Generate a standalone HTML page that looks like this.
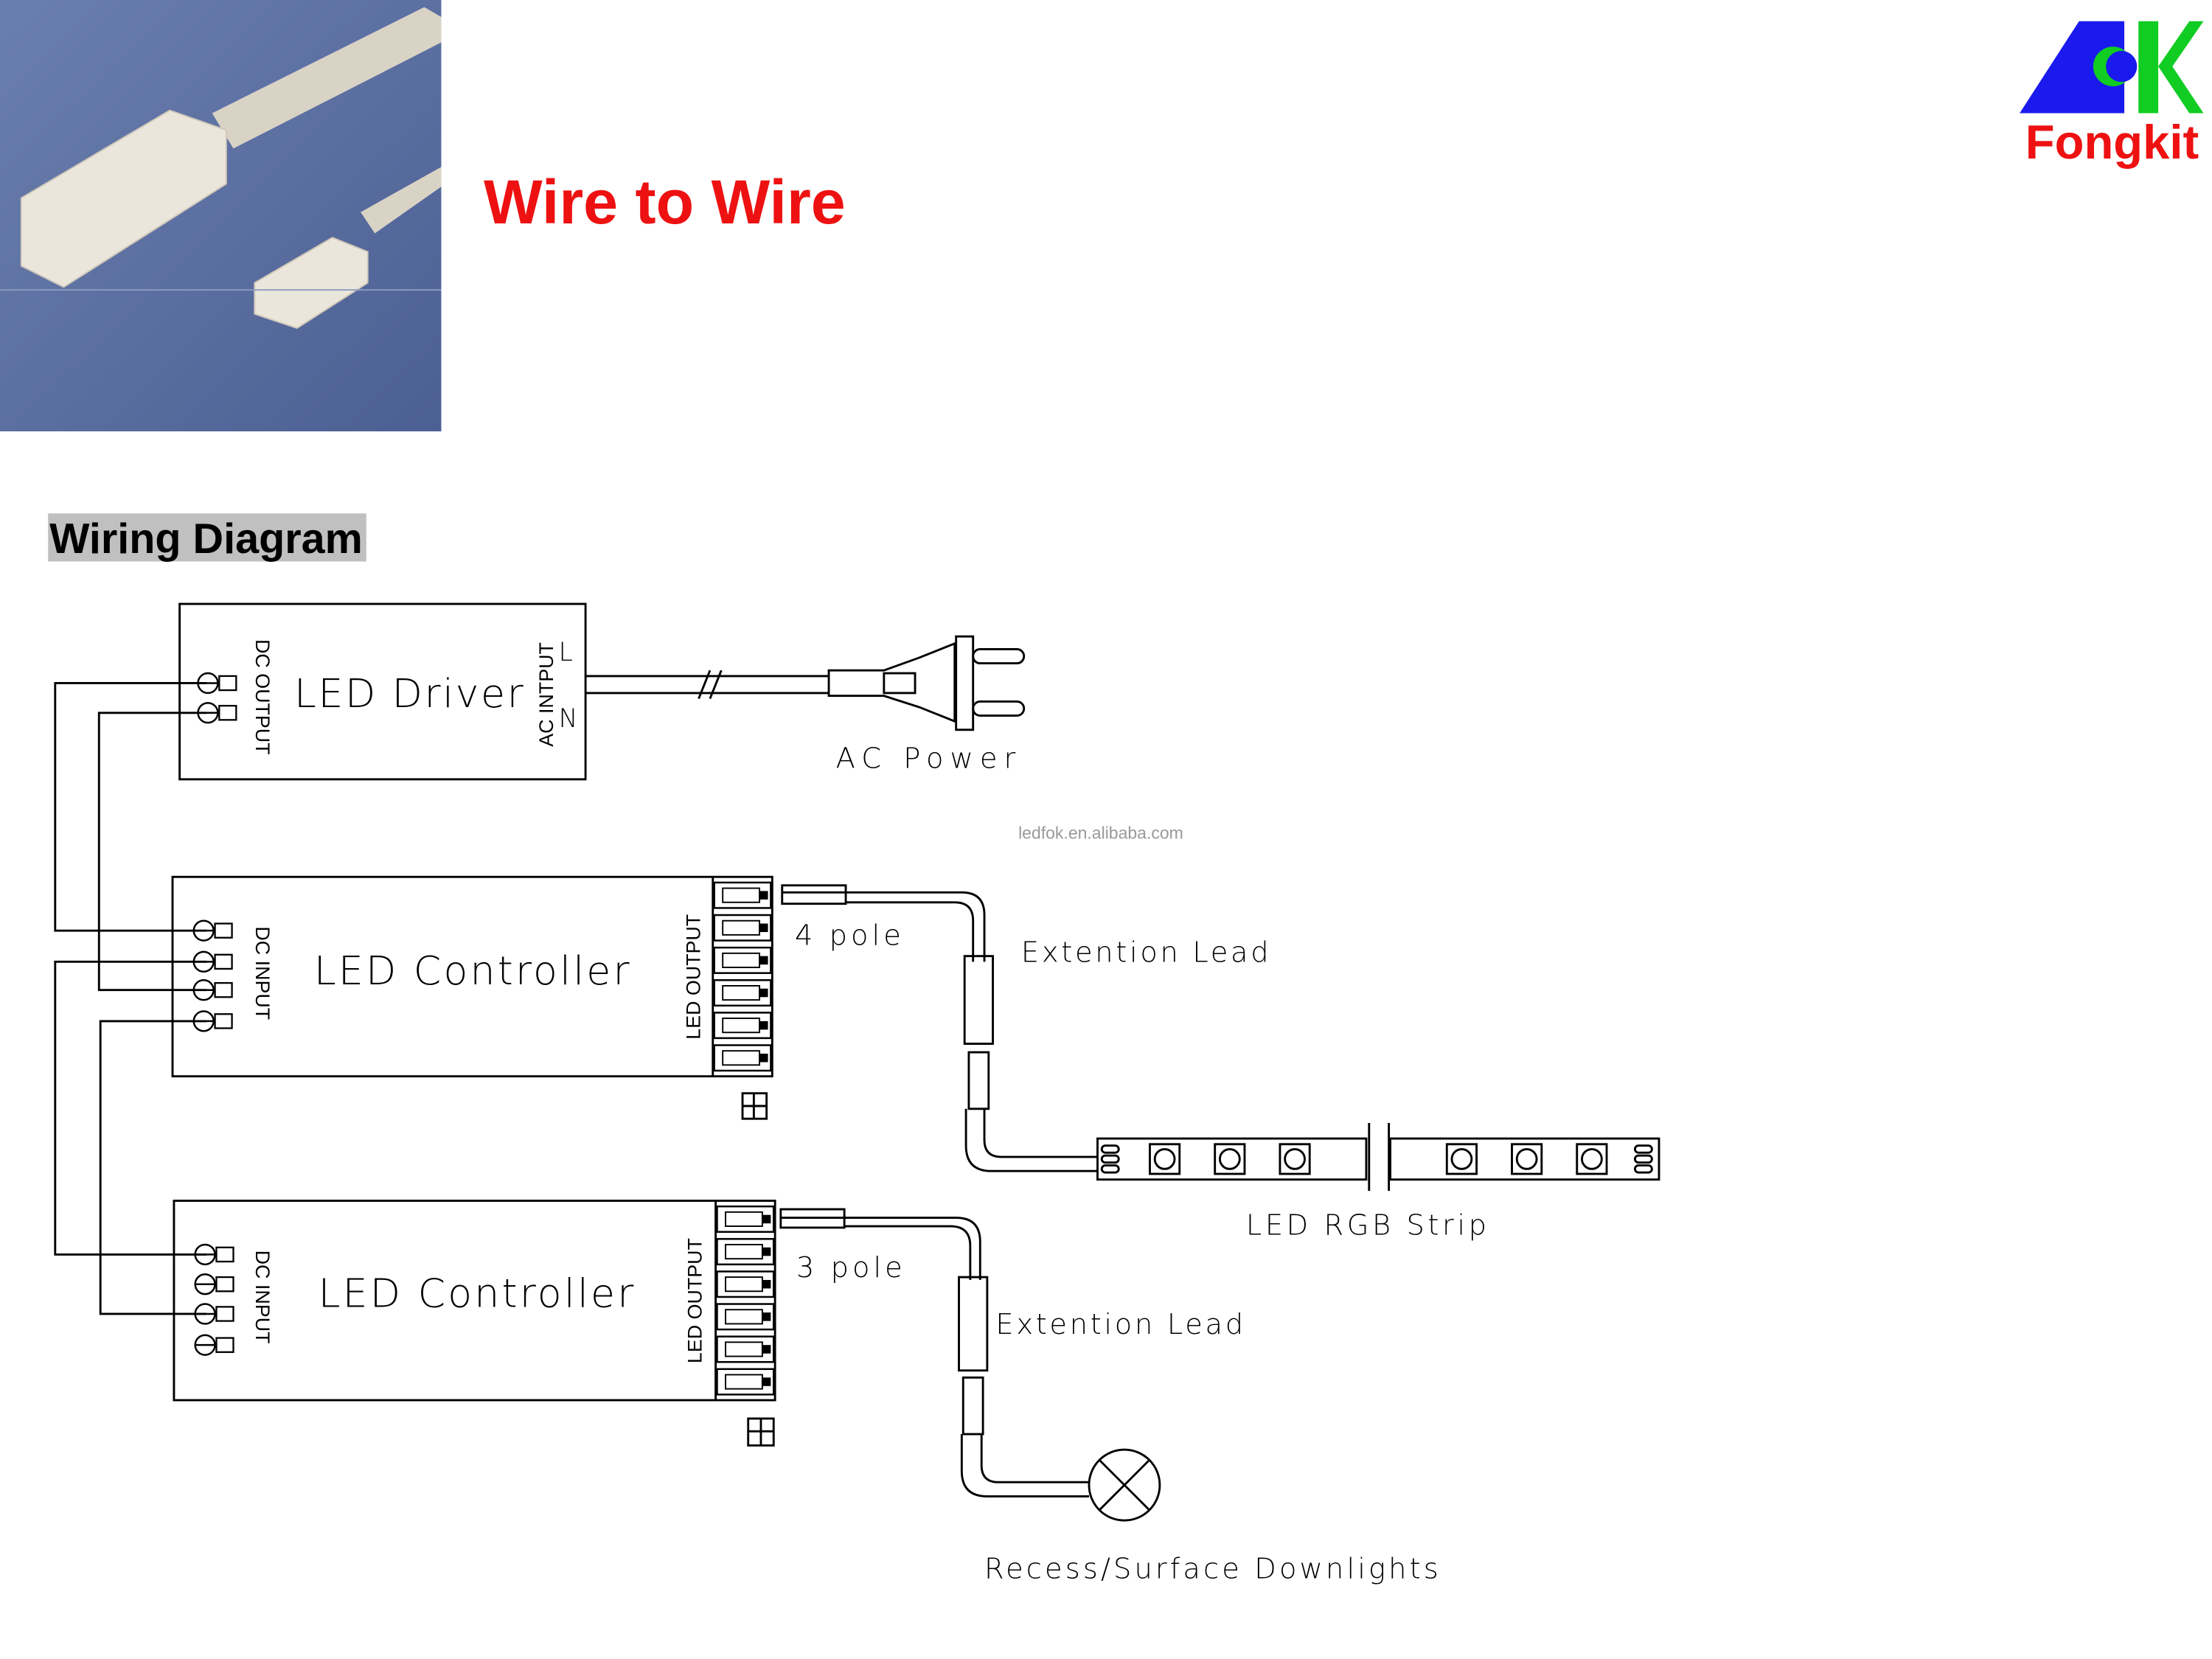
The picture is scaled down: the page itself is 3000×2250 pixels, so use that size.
<!DOCTYPE html>
<html><head><meta charset="utf-8"><style>
html,body{margin:0;padding:0;background:#fff;}
svg{display:block;}
text{font-family:"Liberation Sans","DejaVu Sans",sans-serif;}
.d{font-family:"DejaVu Sans","Liberation Sans",sans-serif;font-weight:200;}
</style></head><body>
<svg width="3000" height="2250" viewBox="0 0 1564 1173" xmlns="http://www.w3.org/2000/svg">
<defs>
<linearGradient id="bg" x1="0" y1="0" x2="1" y2="1"><stop offset="0" stop-color="#6b7fae"/><stop offset="1" stop-color="#4c5f93"/></linearGradient>
<g id="term"><circle cx="0" cy="0" r="7" fill="none" stroke="#000" stroke-width="1.3"/><line x1="-7" y1="0" x2="7" y2="0" stroke="#000" stroke-width="1.3"/><rect x="8" y="-5" width="12" height="10" fill="none" stroke="#000" stroke-width="1.2"/></g>
<g id="out"><rect x="0" y="0" width="40" height="18" fill="none" stroke="#000" stroke-width="1.3"/><rect x="6" y="4" width="26" height="10" fill="none" stroke="#000" stroke-width="1"/><rect x="32" y="6" width="6" height="6" fill="#000"/></g>
</defs>
<rect width="1564" height="1173" fill="#fff"/>
<!-- photo -->
<rect x="0" y="0" width="312" height="305" fill="url(#bg)"/>
<path d="M150 80 L300 5 L312 12 L312 30 L165 105 Z" fill="#d9d3c6"/>
<path d="M15 140 L120 78 L160 92 L160 130 L45 203 L15 188 Z" fill="#ebe6dc" stroke="#cfc7b8"/>
<path d="M255 150 L312 118 L312 132 L265 165 Z" fill="#d9d3c6"/>
<path d="M180 200 L235 168 L260 178 L260 200 L210 232 L180 222 Z" fill="#ebe6dc" stroke="#cfc7b8"/>
<line x1="0" y1="205" x2="312" y2="205" stroke="#8d9cc2" stroke-width="1"/>
<text x="342" y="158" font-size="44" font-weight="bold" fill="#ee1111">Wire to Wire</text>
<!-- logo -->
<path d="M1428 80 L1470 15 L1502 15 L1502 80 Z" fill="#1a1aee"/>
<rect x="1512" y="15" width="14" height="65" fill="#11cc22"/>
<path d="M1526 47 L1548 15 L1558 15 L1536 47 L1558 80 L1548 80 Z" fill="#11cc22"/>
<circle cx="1494" cy="47" r="14" fill="#11cc22"/><circle cx="1500" cy="47" r="11" fill="#1a1aee"/>
<text x="1432" y="112" font-size="34" font-weight="bold" fill="#ee1111">Fongkit</text>
<!-- heading -->
<rect x="34" y="363" width="225" height="34" fill="#c0c0c0"/>
<text x="35" y="391" font-size="30" font-weight="bold" fill="#000">Wiring Diagram</text>
<g fill="none" stroke="#000" stroke-width="1.5">
<rect x="127" y="427" width="287" height="124"/>
<rect x="122" y="620" width="424" height="141"/><line x1="504" y1="620" x2="504" y2="761"/>
<rect x="123" y="849" width="425" height="141"/><line x1="506" y1="849" x2="506" y2="990"/>
<polyline points="146,483 39,483 39,658 146,658"/>
<polyline points="146,504 70,504 70,700 146,700"/>
<polyline points="146,680 39,680 39,887 146,887"/>
<polyline points="146,722 71,722 71,929 146,929"/>
<line x1="414" y1="478" x2="586" y2="478"/><line x1="414" y1="490" x2="586" y2="490"/>
<line x1="494" y1="494" x2="502" y2="474"/><line x1="502" y1="494" x2="510" y2="474"/>
<path d="M586 474 L625 474 L650 465 L675 455 L675 510 L650 500 L625 492 L586 492 Z"/>
<rect x="676" y="450" width="12" height="66"/>
<rect x="688" y="459" width="36" height="10" rx="5"/><rect x="688" y="496" width="36" height="10" rx="5"/>
<rect x="625" y="476" width="22" height="14"/>
<path d="M553 631 L680 631 Q696 631 696 647 L696 680"/>
<path d="M598 638 L675 638 Q688 638 688 651 L688 680"/>
<rect x="553" y="626" width="45" height="13"/>
<rect x="682" y="676" width="20" height="62"/>
<rect x="685" y="744" width="14" height="40"/>
<path d="M683 784 L683 810 Q683 828 701 828 L776 828"/>
<path d="M696 784 L696 806 Q696 818 708 818 L776 818"/>
<rect x="776" y="805" width="190" height="29"/><rect x="983" y="805" width="190" height="29"/>
<line x1="968" y1="794" x2="968" y2="842"/><line x1="982" y1="794" x2="982" y2="842"/>
<rect x="813" y="809" width="21" height="21"/><circle cx="823.5" cy="819.5" r="7"/>
<rect x="859" y="809" width="21" height="21"/><circle cx="869.5" cy="819.5" r="7"/>
<rect x="905" y="809" width="21" height="21"/><circle cx="915.5" cy="819.5" r="7"/>
<rect x="1023" y="809" width="21" height="21"/><circle cx="1033.5" cy="819.5" r="7"/>
<rect x="1069" y="809" width="21" height="21"/><circle cx="1079.5" cy="819.5" r="7"/>
<rect x="1115" y="809" width="21" height="21"/><circle cx="1125.5" cy="819.5" r="7"/>
<rect x="1156" y="810" width="12" height="5" rx="2.5"/><rect x="1156" y="817" width="12" height="5" rx="2.5"/><rect x="1156" y="824" width="12" height="5" rx="2.5"/>
<rect x="779" y="810" width="12" height="5" rx="2.5"/><rect x="779" y="817" width="12" height="5" rx="2.5"/><rect x="779" y="824" width="12" height="5" rx="2.5"/>
<path d="M552 861 L676 861 Q693 861 693 878 L693 905"/>
<path d="M597 867 L672 867 Q686 867 686 881 L686 905"/>
<rect x="552" y="855" width="45" height="13"/>
<rect x="678" y="903" width="20" height="66"/>
<rect x="681" y="974" width="14" height="40"/>
<path d="M680 1014 L680 1040 Q680 1058 698 1058 L770 1058"/>
<path d="M694 1014 L694 1036 Q694 1048 706 1048 L770 1048"/>
<circle cx="795" cy="1050" r="25"/>
<line x1="777" y1="1032" x2="813" y2="1068"/><line x1="813" y1="1032" x2="777" y2="1068"/>
<rect x="525" y="773" width="17" height="18"/><line x1="533" y1="773" x2="533" y2="791"/><line x1="525" y1="782" x2="542" y2="782"/>
<rect x="529" y="1003" width="18" height="19"/><line x1="538" y1="1003" x2="538" y2="1022"/><line x1="529" y1="1012" x2="547" y2="1012"/>
</g>
<use href="#term" x="147" y="483"/><use href="#term" x="147" y="504"/>
<use href="#term" x="144" y="658"/><use href="#term" x="144" y="680"/><use href="#term" x="144" y="700"/><use href="#term" x="144" y="722"/>
<use href="#term" x="145" y="887"/><use href="#term" x="145" y="908"/><use href="#term" x="145" y="929"/><use href="#term" x="145" y="951"/>
<use href="#out" x="505" y="624"/><use href="#out" x="505" y="647"/><use href="#out" x="505" y="670"/><use href="#out" x="505" y="693"/><use href="#out" x="505" y="716"/><use href="#out" x="505" y="739"/>
<use href="#out" x="507" y="853"/><use href="#out" x="507" y="876"/><use href="#out" x="507" y="899"/><use href="#out" x="507" y="922"/><use href="#out" x="507" y="945"/><use href="#out" x="507" y="968"/>
<g fill="#000">
<text class="d" x="208" y="500" font-size="28" textLength="162" lengthAdjust="spacing">LED  Driver</text>
<text x="181" y="452" font-size="14" transform="rotate(90 181 452)">DC OUTPUT</text>
<text x="391" y="528" font-size="14" transform="rotate(-90 391 528)">AC INTPUT</text>
<text class="d" x="395" y="467" font-size="18">L</text>
<text class="d" x="395" y="514" font-size="18">N</text>
<text class="d" x="591" y="543" font-size="20" textLength="127" lengthAdjust="spacing">AC    Power</text>
<text x="720" y="593" font-size="12" fill="#999">ledfok.en.alibaba.com</text>
<text class="d" x="222" y="696" font-size="28" textLength="223" lengthAdjust="spacing">LED  Controller</text>
<text x="181" y="655" font-size="14" transform="rotate(90 181 655)">DC INPUT</text>
<text x="495" y="735" font-size="14" transform="rotate(-90 495 735)">LED OUTPUT</text>
<text class="d" x="562" y="668" font-size="20" textLength="75" lengthAdjust="spacing">4  pole</text>
<text class="d" x="722" y="680" font-size="20" textLength="175" lengthAdjust="spacing">Extention  Lead</text>
<text class="d" x="881" y="873" font-size="20" textLength="170" lengthAdjust="spacing">LED  RGB  Strip</text>
<text class="d" x="225" y="924" font-size="28" textLength="223" lengthAdjust="spacing">LED  Controller</text>
<text x="181" y="884" font-size="14" transform="rotate(90 181 884)">DC INPUT</text>
<text x="496" y="964" font-size="14" transform="rotate(-90 496 964)">LED OUTPUT</text>
<text class="d" x="563" y="903" font-size="20" textLength="75" lengthAdjust="spacing">3  pole</text>
<text class="d" x="704" y="943" font-size="20" textLength="175" lengthAdjust="spacing">Extention  Lead</text>
<text class="d" x="696" y="1116" font-size="20" textLength="321" lengthAdjust="spacing">Recess/Surface  Downlights</text>
</g>
</svg>
</body></html>
